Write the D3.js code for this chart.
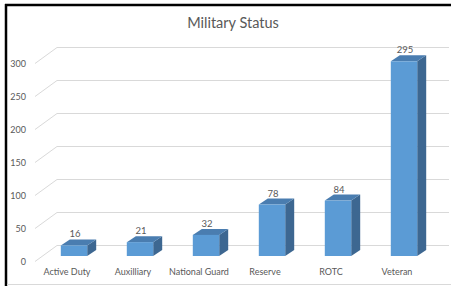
<!DOCTYPE html>
<html>
<head>
<meta charset="utf-8">
<script src="https://cdn.jsdelivr.net/npm/d3@7"></script>
<style>
html,body{margin:0;padding:0;background:#fff;}
svg{display:block;}
text{font-family:Lato,"Open Sans",sans-serif;fill:#595959;}
</style>
</head>
<body>
<svg id="chart" width="451" height="286"></svg>
<script>
const title = "Military Status";
const categories = ["Active Duty","Auxilliary","National Guard","Reserve","ROTC","Veteran"];
const values = [16,21,32,78,84,295];
const yTicks = [0,50,100,150,200,250,300];

const svg = d3.select("#chart");
const W = 451, H = 286;

// frame
svg.append("rect").attr("x",0).attr("y",0).attr("width",W).attr("height",H).attr("fill","#fff");
svg.append("line").attr("x1",6).attr("x2",6).attr("y1",4).attr("y2",286).attr("stroke","#000").attr("stroke-width",2.5);
svg.append("line").attr("x1",5).attr("x2",451).attr("y1",5).attr("y2",5).attr("stroke","#000").attr("stroke-width",2.5);
svg.append("line").attr("x1",7).attr("x2",451).attr("y1",284.5).attr("y2",284.5).attr("stroke","#d9d9d9").attr("stroke-width",1);

// title
svg.append("text").attr("x",233).attr("y",28).attr("text-anchor","middle")
  .style("font-size","14.5px").text(title);

// scales (front plane)
const x = d3.scaleBand().domain(categories).range([34,430]).paddingInner(0.6).paddingOuter(0.3);
const y = d3.scaleLinear().domain([0,300]).range([261,63]);
const floorD = [22,-16];      // full floor depth offset
const barF = [7,-5];          // bar front face offset
const barD = [9,-6];          // bar depth

// gridlines
const grid = svg.append("g").attr("stroke","#d9d9d9").attr("stroke-width",1).attr("fill","none");
yTicks.forEach(v=>{
  const yf = y(v);
  grid.append("path").attr("d",`M35,${yf+0.5} L${35+floorD[0]},${yf+floorD[1]+0.5} L449,${yf+floorD[1]+0.5}`);
});

// y tick labels
svg.append("g").selectAll("text").data(yTicks).join("text")
  .attr("x",26).attr("y",v=>y(v)+3.5).attr("text-anchor","end")
  .style("font-size","9px").text(v=>v);

// bars
const bars = svg.append("g");
categories.forEach((c,i)=>{
  const v = values[i];
  const x0 = x(c)+barF[0], x1 = x0 + x.bandwidth();
  const yb = y(0)+barF[1], yt = y(v)+barF[1];
  const dx = barD[0], dy = barD[1];
  // side
  bars.append("path").attr("d",`M${x1},${yt} L${x1+dx},${yt+dy} L${x1+dx},${yb+dy} L${x1},${yb} Z`).attr("fill","#3d6791");
  // top
  bars.append("path").attr("d",`M${x0},${yt} L${x0+dx},${yt+dy} L${x1+dx},${yt+dy} L${x1},${yt} Z`).attr("fill","#4a7db0");
  // front
  bars.append("rect").attr("x",x0).attr("y",yt).attr("width",x1-x0).attr("height",yb-yt).attr("fill","#5b9bd5");
  // value label
  svg.append("text").attr("x",(x0+x1)/2+1).attr("y",yt+dy-2).attr("text-anchor","middle")
    .style("font-size","9.5px").text(v);
});

// category labels
svg.append("g").selectAll("text").data(categories).join("text")
  .attr("x",c=>x(c)+x.bandwidth()/2).attr("y",275).attr("text-anchor","middle")
  .style("font-size","9px").text(c=>c);
</script>
</body>
</html>
